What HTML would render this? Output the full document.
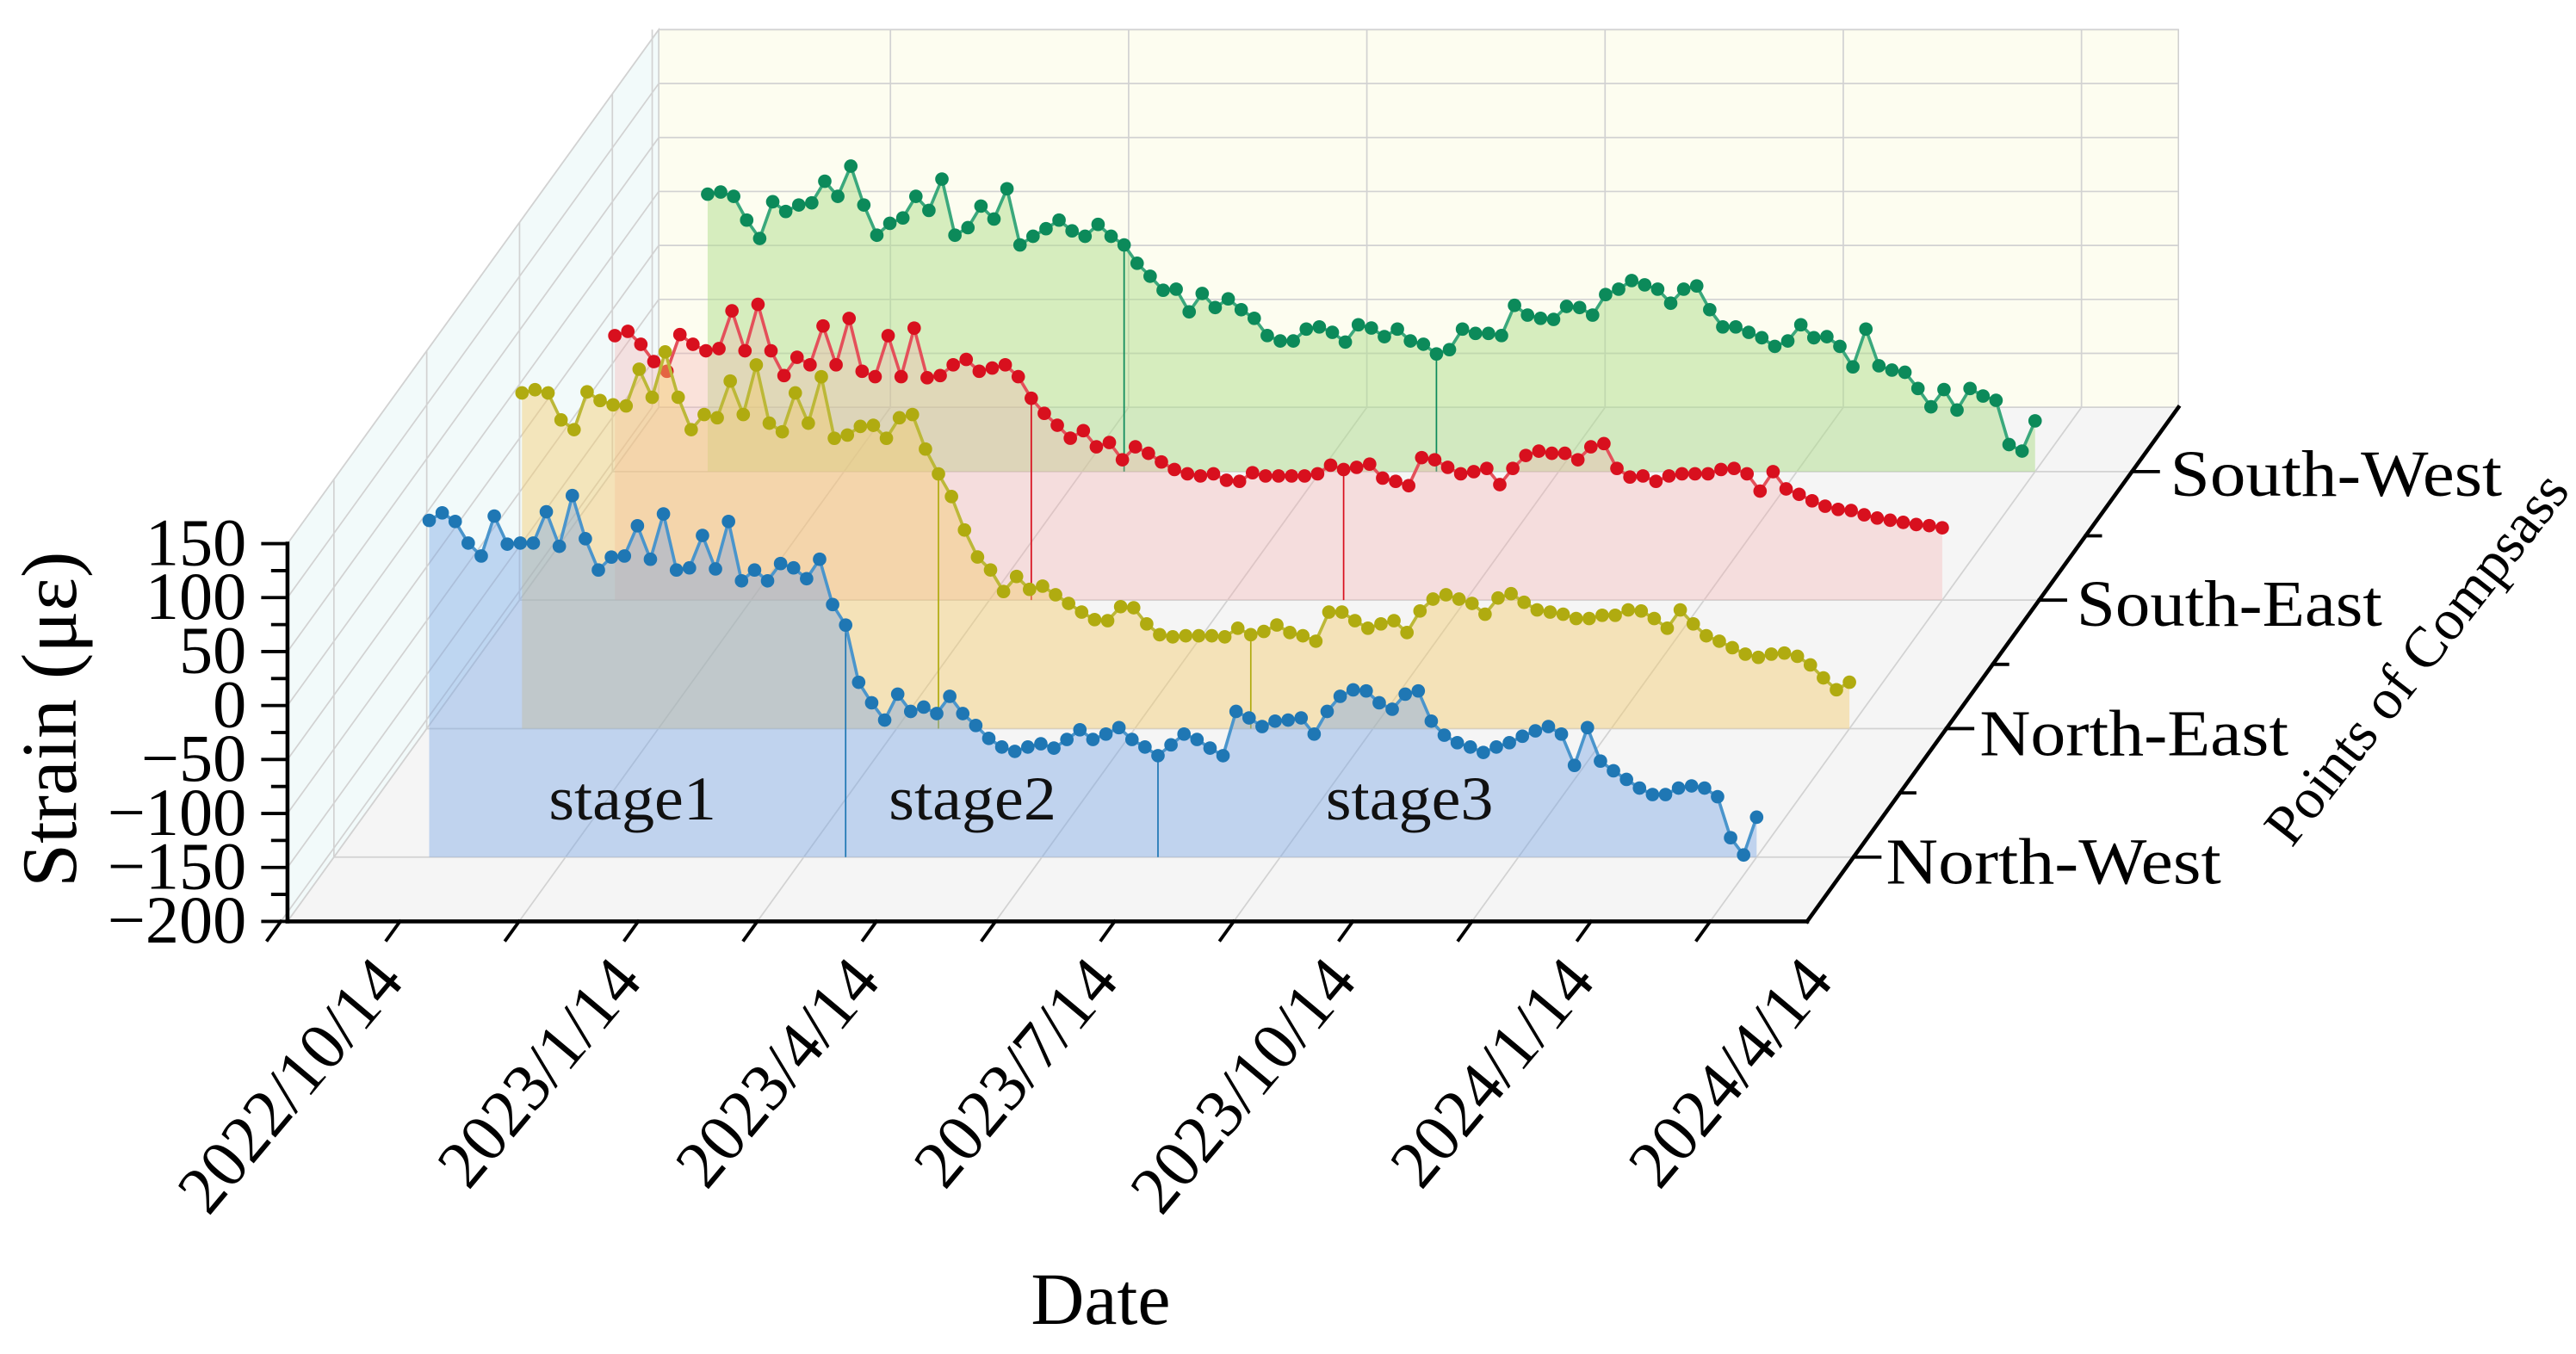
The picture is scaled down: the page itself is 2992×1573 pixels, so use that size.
<!DOCTYPE html>
<html><head><meta charset="utf-8">
<style>
html,body{margin:0;padding:0;background:#fff;}
svg{display:block;font-family:"Liberation Serif",serif;}
</style></head>
<body>
<svg id="chart" width="2992" height="1573" viewBox="0 0 1568 824.4" preserveAspectRatio="none" xmlns="http://www.w3.org/2000/svg"></svg>
<script>
// ---- data ----
const seriesNames = ["North-West","North-East","South-East","South-West"];
const seriesDepth = [0.125, 0.375, 0.625, 0.875];
const dateLabels = ["2022/10/14","2023/1/14","2023/4/14","2023/7/14","2023/10/14","2024/1/14","2024/4/14"];
const zTicks = [150,100,50,0,-50,-100,-150,-200];
const stageNames = ["stage1","stage2","stage3"];
const stageBreaks = [32, 56];
const northWest = [112,119,111,91,79,116,90,91,91,120,88,135,95,66,78,79,107,76,118,66,68,98,67,111,56,66,56,72,68,58,76,34,15,-38,-57,-73,-49,-65,-61,-67,-51,-67,-78,-90,-98,-102,-98,-95,-99,-91,-82,-91,-86,-80,-91,-98,-106,-96,-86,-91,-99,-106,-65,-71,-79,-74,-73,-71,-86,-65,-51,-45,-46,-57,-63,-49,-46,-74,-87,-94,-98,-103,-98,-94,-88,-83,-79,-86,-115,-80,-111,-120,-128,-136,-142,-142,-136,-134,-136,-144,-182,-198,-163];
const northEast = [111,114,111,86,77,112,104,100,99,133,107,149,107,77,91,88,122,91,137,83,75,111,83,126,69,72,80,81,69,88,91,59,36,15,-16,-41,-53,-73,-59,-71,-68,-76,-84,-92,-99,-100,-87,-88,-103,-113,-115,-114,-114,-114,-115,-107,-113,-110,-104,-111,-114,-119,-92,-92,-100,-107,-103,-100,-111,-91,-80,-76,-80,-84,-94,-79,-75,-83,-90,-92,-94,-98,-98,-95,-95,-90,-91,-98,-107,-90,-103,-114,-119,-125,-131,-134,-131,-130,-133,-141,-153,-164,-157];
const southEast = [45,49,37,21,12,46,37,31,33,68,31,74,31,8,25,18,54,18,61,12,7,45,7,52,6,8,18,23,12,15,18,7,-13,-27,-38,-50,-43,-58,-54,-70,-58,-64,-72,-79,-83,-85,-83,-89,-90,-82,-85,-85,-85,-85,-83,-75,-79,-77,-74,-87,-90,-94,-68,-70,-77,-83,-81,-78,-93,-78,-66,-62,-64,-64,-70,-58,-55,-78,-86,-85,-90,-85,-83,-83,-83,-79,-78,-83,-99,-81,-97,-102,-108,-113,-116,-117,-121,-124,-126,-128,-130,-131,-133];
const southWest = [57,59,55,33,16,50,41,47,49,69,55,83,47,19,30,35,55,42,71,19,26,46,34,62,10,18,25,33,23,18,29,18,10,-7,-19,-32,-31,-52,-35,-48,-40,-50,-58,-74,-79,-79,-68,-66,-71,-80,-64,-67,-75,-68,-79,-82,-91,-87,-68,-72,-72,-74,-46,-55,-58,-59,-47,-48,-55,-36,-31,-23,-27,-31,-44,-31,-28,-50,-66,-66,-71,-76,-84,-79,-64,-76,-75,-84,-103,-68,-102,-106,-108,-123,-140,-124,-143,-123,-130,-134,-175,-181,-153];
const allSeries = [northWest, northEast, southEast, southWest];

// ---- style ----
const lineCol = ["#4a95cc","#bcb838","#e4505a","#3aa87c"];
const dotCol = ["#1f77b4","#b0ab10","#d8101e","#0c8a5a"];
const fillCol = ["rgba(120,165,228,0.42)","rgba(245,205,110,0.45)","rgba(245,170,170,0.32)","rgba(175,222,140,0.5)"];

// ---- projection ----
const X0=175, X1=1100, Y0=561, DX=226, DY=313, ZH=230, ZMIN=-200, ZMAX=150;
const DATA_X0=233, DATA_X1=1041;
function zpx(v){ return (v-ZMIN)/(ZMAX-ZMIN)*ZH; }
function proj(fx, v, d){ return [fx + DX*d, Y0 - DY*d - zpx(v)]; }
function xIndex(i, n){ return DATA_X0 + i*(DATA_X1-DATA_X0)/(n-1); }

const svg = document.getElementById('chart');
const NS = "http://www.w3.org/2000/svg";
function mk(tag, attrs, parent){
  const e=document.createElementNS(NS,tag);
  for(const k in attrs) e.setAttribute(k,attrs[k]);
  (parent||svg).appendChild(e); return e;
}
function pts(a){ return a.map(p=>p[0].toFixed(2)+","+p[1].toFixed(2)).join(" "); }

// panes
const floor = mk('polygon',{points:pts([[X0,Y0],[X1,Y0],[X1+DX,Y0-DY],[X0+DX,Y0-DY]]),fill:"#f5f5f5",stroke:"#dddddd","stroke-width":0.8});


const leftWall = mk('polygon',{points:pts([[X0,Y0],[X0,Y0-ZH],[X0+DX,Y0-DY-ZH],[X0+DX,Y0-DY]]),fill:"#f2fafa",stroke:"#cfcfcf","stroke-width":0.8});


const backWall = mk('polygon',{points:pts([[X0+DX,Y0-DY],[X0+DX,Y0-DY-ZH],[X1+DX,Y0-DY-ZH],[X1+DX,Y0-DY]]),fill:"#fdfdf0",stroke:"#cfcfcf","stroke-width":0.8});



// grids
const grid = mk('g',{stroke:"#d2d2d2","stroke-width":0.9,fill:"none"});


const gridTickX = []; for(let k=0;k<7;k++) gridTickX.push(171+145*k);
gridTickX.forEach(fx=>{
  mk('line',{x1:fx,y1:Y0,x2:fx+DX,y2:Y0-DY},grid);
  mk('line',{x1:fx+DX,y1:Y0-DY,x2:fx+DX,y2:Y0-DY-ZH},grid);
});
zTicks.forEach(v=>{
  const h=zpx(v);
  mk('line',{x1:X0,y1:Y0-h,x2:X0+DX,y2:Y0-DY-h},grid);
  mk('line',{x1:X0+DX,y1:Y0-DY-h,x2:X1+DX,y2:Y0-DY-h},grid);
});
seriesDepth.forEach(d=>{
  mk('line',{x1:X0+DX*d,y1:Y0-DY*d,x2:X1+DX*d,y2:Y0-DY*d},grid);
  mk('line',{x1:X0+DX*d,y1:Y0-DY*d,x2:X0+DX*d,y2:Y0-DY*d-ZH},grid);
});

// series, back to front
for(let s=3;s>=0;s--){
  const vals=allSeries[s], d=seriesDepth[s], n=vals.length;
  const g=mk('g',{});
  
  
  const line=vals.map((v,i)=>proj(xIndex(i,n),v,d));
  const base0=proj(xIndex(0,n),ZMIN,d), base1=proj(xIndex(n-1,n),ZMIN,d);
  const area=mk('polygon',{points:pts([base0].concat(line,[base1])),fill:fillCol[s],stroke:"none"},g);
  
  
  stageBreaks.forEach(bi=>{
    const p=line[bi], b=proj(xIndex(bi,n),ZMIN,d);
    const sl=mk('line',{x1:p[0],y1:p[1],x2:b[0],y2:b[1],stroke:dotCol[s],"stroke-width":0.9},g);
    
    
  });
  const pl=mk('polyline',{points:pts(line),fill:"none",stroke:lineCol[s],"stroke-width":1.9},g);
  
  
  line.forEach(p=>{
    const c=mk('circle',{cx:p[0],cy:p[1],r:4.1,fill:dotCol[s]},g);
    
    
  });
}

// stage labels
const stageX=[385,592,858];
stageNames.forEach((t,i)=>{
  const e=mk('text',{x:stageX[i],y:499,"font-size":38,"text-anchor":"middle",fill:"#111",textLength:102,lengthAdjust:"spacingAndGlyphs"});
  e.textContent=t;
  
  
});

// axes
const axes=mk('g',{stroke:"#000","stroke-width":2.4,fill:"none","stroke-linecap":"square"});


mk('line',{x1:X0,y1:Y0,x2:X0,y2:Y0-ZH},axes);
mk('line',{x1:X0,y1:Y0,x2:X1,y2:Y0},axes);
mk('line',{x1:X1,y1:Y0,x2:X1+DX,y2:Y0-DY},axes);
for(let v=ZMIN; v<=ZMAX; v+=25){
  const y=Y0-zpx(v), major=(v%50===0);
  mk('line',{x1:X0-(major?15:9),y1:y,x2:X0,y2:y,"stroke-width":2},axes);
}
const zl=mk('g',{"font-size":41,"text-anchor":"end",fill:"#000"});


zTicks.forEach(v=>{
  const e=mk('text',{x:150,y:Y0-zpx(v)+13},zl);
  e.textContent=(v<0?"\u2212"+(-v):String(v));
  
  
});
const ux=-DX/Math.hypot(DX,DY)*14, uy=DY/Math.hypot(DX,DY)*14;
for(let k=0;k<13;k++){
  const fx=171+72.5*k;
  mk('line',{x1:fx,y1:Y0,x2:fx+ux,y2:Y0+uy,"stroke-width":2},axes);
}
for(let k=1;k<8;k++){
  const d=k/8, x=X1+DX*d, y=Y0-DY*d;
  mk('line',{x1:x,y1:y,x2:x+(k%2?16:9),y2:y,"stroke-width":2},axes);
}
const dl=mk('g',{"font-size":41,"text-anchor":"end",fill:"#000"});


dateLabels.forEach((t,k)=>{
  const x=247+145*k, y=598;
  const e=mk('text',{x:0,y:0,transform:`translate(${x},${y}) rotate(-50)`},dl);
  e.textContent=t;
  
  
});
const depthLabelPos=[[1148,538],[1205,460],[1264,381],[1321,302]];
seriesNames.forEach((t,i)=>{
  const e=mk('text',{x:depthLabelPos[i][0],y:depthLabelPos[i][1],"font-size":40,fill:"#000",textLength:[204,188,186,202][i],lengthAdjust:"spacingAndGlyphs"});
  e.textContent=t;
  
  
});
let t=mk('text',{x:670,y:806,"font-size":45,"text-anchor":"middle",fill:"#000"});
t.textContent="Date";


t=mk('text',{x:0,y:0,"font-size":48,"text-anchor":"middle",fill:"#000",transform:"translate(46,438) rotate(-90)"});
t.textContent="Strain (\u03bc\u03b5)";


t=mk('text',{x:0,y:0,"font-size":35,"text-anchor":"middle",fill:"#000",transform:"translate(1480,408) rotate(-52)"});
t.textContent="Points of Compsass";


</script>
</body></html>
